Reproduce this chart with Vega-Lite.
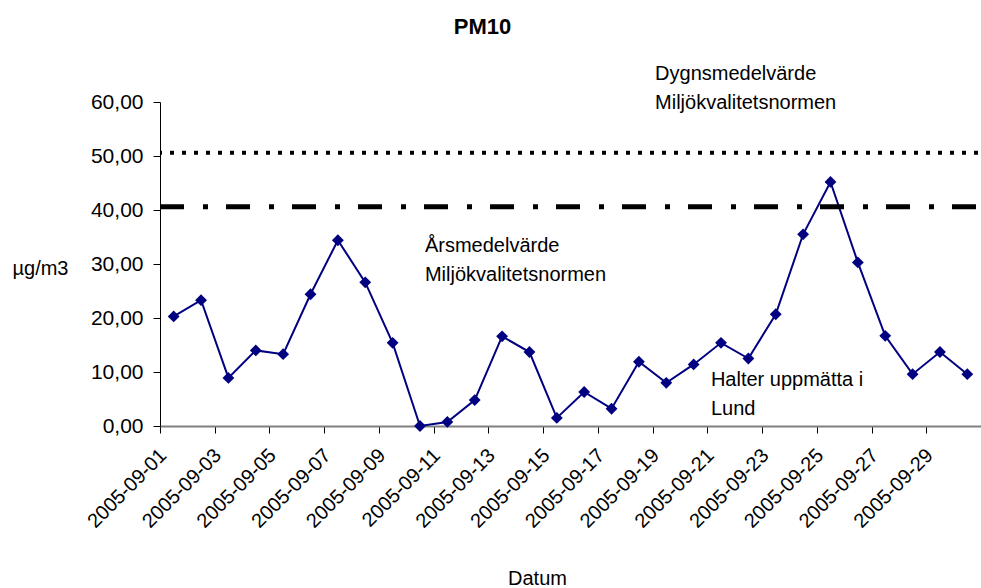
{
  "$schema": "https://vega.github.io/schema/vega-lite/v6.json",
  "width": 821,
  "height": 324,
  "autosize": "none",
  "padding": {"left": 160, "top": 102, "right": 0, "bottom": 162},
  "background": "white",
  "title": {"text": "PM10", "fontSize": 22, "fontWeight": "bold", "font": "Liberation Sans", "color": "black", "anchor": "middle", "frame": "group", "dx": -88, "offset": 25},
  "config": {
    "font": "Liberation Sans",
    "view": {"stroke": null},
    "axis": {"grid": false, "labelColor": "black", "titleColor": "black", "labelFont": "Liberation Sans", "titleFont": "Liberation Sans", "titleFontWeight": "normal", "labelFontSize": 20, "titleFontSize": 20, "tickColor": "black", "tickSize": 7}
  },
  "resolve": {"scale": {"x": "independent"}},
  "datasets": {
    "pm10": [
      {"datum": "2005-09-01", "value": 20.3},
      {"datum": "2005-09-02", "value": 23.3},
      {"datum": "2005-09-03", "value": 8.9},
      {"datum": "2005-09-04", "value": 14.0},
      {"datum": "2005-09-05", "value": 13.3},
      {"datum": "2005-09-06", "value": 24.4},
      {"datum": "2005-09-07", "value": 34.4},
      {"datum": "2005-09-08", "value": 26.6},
      {"datum": "2005-09-09", "value": 15.4},
      {"datum": "2005-09-10", "value": 0.0},
      {"datum": "2005-09-11", "value": 0.75},
      {"datum": "2005-09-12", "value": 4.8},
      {"datum": "2005-09-13", "value": 16.6},
      {"datum": "2005-09-14", "value": 13.7},
      {"datum": "2005-09-15", "value": 1.5},
      {"datum": "2005-09-16", "value": 6.3},
      {"datum": "2005-09-17", "value": 3.2},
      {"datum": "2005-09-18", "value": 11.9},
      {"datum": "2005-09-19", "value": 8.0},
      {"datum": "2005-09-20", "value": 11.4},
      {"datum": "2005-09-21", "value": 15.4},
      {"datum": "2005-09-22", "value": 12.5},
      {"datum": "2005-09-23", "value": 20.7},
      {"datum": "2005-09-24", "value": 35.5},
      {"datum": "2005-09-25", "value": 45.2},
      {"datum": "2005-09-26", "value": 30.3},
      {"datum": "2005-09-27", "value": 16.7},
      {"datum": "2005-09-28", "value": 9.6},
      {"datum": "2005-09-29", "value": 13.7},
      {"datum": "2005-09-30", "value": 9.6}
    ],
    "normer": [
      {"norm": "dygn", "value": 50.6},
      {"norm": "ars", "value": 40.6}
    ],
    "texter": [
      {"label": "Dygnsmedelvärde\nMiljökvalitetsnormen", "dag": 18.59, "value": 64.0},
      {"label": "Årsmedelvärde\nMiljökvalitetsnormen", "dag": 10.18, "value": 32.2},
      {"label": "Halter uppmätta i\nLund", "dag": 20.63, "value": 7.5}
    ]
  },
  "encoding": {
    "y": {
      "field": "value", "type": "quantitative",
      "scale": {"domain": [0, 60], "nice": false, "zero": true},
      "axis": {
        "title": "µg/m3", "titleAngle": 0, "titleAlign": "center", "titleBaseline": "middle", "titleX": -120, "titleY": 166,
        "values": [0, 10, 20, 30, 40, 50, 60],
        "labelExpr": "replace(format(datum.value, '.2f'), '.', ',')",
        "labelFontSize": 21, "labelPadding": 10, "domainColor": "black", "domainWidth": 1
      }
    }
  },
  "layer": [
    {
      "data": {"name": "pm10"},
      "encoding": {
        "x": {
          "field": "datum", "type": "ordinal",
          "scale": {"paddingInner": 0, "paddingOuter": 0},
          "axis": {
            "title": "Datum", "titleX": 377, "titleY": 158, "titleBaseline": "alphabetic", "titleAlign": "center",
            "values": ["2005-09-01", "2005-09-03", "2005-09-05", "2005-09-07", "2005-09-09", "2005-09-11", "2005-09-13", "2005-09-15", "2005-09-17", "2005-09-19", "2005-09-21", "2005-09-23", "2005-09-25", "2005-09-27", "2005-09-29"],
            "labelAngle": -45, "labelAlign": "right", "labelBaseline": "middle", "labelPadding": 19, "labelOffset": 3,
            "tickOffset": -13.683,
            "domainColor": "#808080", "domainWidth": 2
          }
        }
      },
      "layer": [
        {"mark": {"type": "line", "color": "#000080", "strokeWidth": 2}},
        {"mark": {"type": "point", "shape": "diamond", "filled": true, "size": 140, "color": "#000080", "opacity": 1}}
      ]
    },
    {
      "data": {"name": "normer"},
      "transform": [{"filter": "datum.norm === 'dygn'"}],
      "mark": {"type": "rule", "color": "black", "strokeWidth": 4, "strokeDash": [4, 8], "strokeDashOffset": -3, "strokeCap": "butt"}
    },
    {
      "data": {"name": "normer"},
      "transform": [{"filter": "datum.norm === 'ars'"}],
      "mark": {"type": "rule", "color": "black", "strokeWidth": 5, "strokeDash": [24, 18, 5, 19], "strokeDashOffset": -5, "strokeCap": "butt"}
    },
    {
      "data": {"name": "texter"},
      "mark": {"type": "text", "align": "left", "baseline": "alphabetic", "fontSize": 20, "lineBreak": "\n", "lineHeight": 29, "color": "black", "font": "Liberation Sans"},
      "encoding": {
        "x": {"field": "dag", "type": "quantitative", "scale": {"domain": [0.5, 30.5], "nice": false, "zero": false}, "axis": null},
        "text": {"field": "label"}
      }
    }
  ]
}
